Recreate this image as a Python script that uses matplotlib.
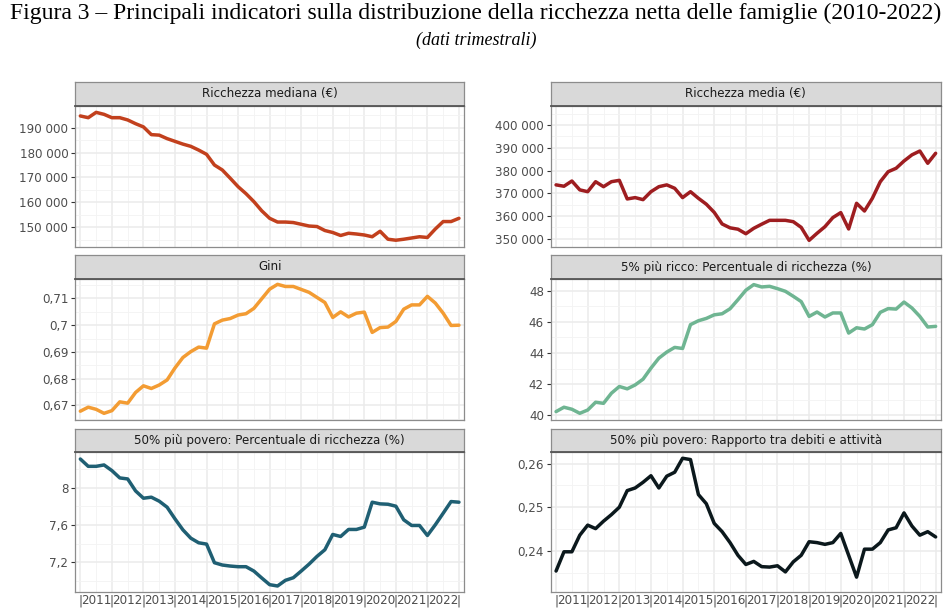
import matplotlib
matplotlib.use("Agg")
import matplotlib.pyplot as plt
from matplotlib.ticker import FixedLocator, FuncFormatter, MultipleLocator

plt.rcParams["font.family"] = ["DejaVu Sans"]

# quarterly data, 2010Q4 - 2022Q4 (plotted at quarter end)
quarters = [f"{2010 + (i + 3) // 4}Q{(i + 3) % 4 + 1}" for i in range(49)]

mediana = [194700, 194000, 196150, 195350, 194000, 194000, 193100, 191600, 190300, 187200,
           187000, 185600, 184500, 183400, 182500, 181000, 179300, 175000, 173000, 169700,
           166300, 163500, 160300, 156600, 153600, 152100, 152100, 151900, 151200, 150500,
           150300, 148700, 147900, 146700, 147600, 147300, 146900, 146200, 148400, 145200,
           144800, 145200, 145700, 146200, 145900, 149300, 152300, 152300, 153600]

media = [373700, 373100, 375400, 371500, 370700, 375100, 372900, 375100, 375700, 367500,
         368100, 367200, 370700, 372900, 373700, 372200, 368100, 370700, 367800, 365200,
         361600, 356500, 354800, 354200, 352200, 354600, 356400, 358100, 358100, 358100,
         357500, 355000, 349300, 352400, 355300, 359300, 361500, 354300, 365600, 362200,
         367800, 375100, 379500, 381000, 384200, 386900, 388600, 383200, 387600]

gini = [0.6678, 0.6693, 0.6685, 0.6670, 0.6680, 0.6713, 0.6708, 0.6748, 0.6773, 0.6763,
        0.6776, 0.6795, 0.6840, 0.6879, 0.6901, 0.6918, 0.6914, 0.7005, 0.7019, 0.7025,
        0.7038, 0.7043, 0.7063, 0.7099, 0.7135, 0.7153, 0.7145, 0.7145, 0.7134, 0.7123,
        0.7104, 0.7085, 0.7029, 0.7050, 0.7031, 0.7045, 0.7049, 0.6973, 0.6991, 0.6993,
        0.7014, 0.7060, 0.7076, 0.7076, 0.7108, 0.7083, 0.7045, 0.6999, 0.7000]

top5 = [40.24, 40.52, 40.39, 40.13, 40.34, 40.84, 40.77, 41.42, 41.85, 41.70,
        41.95, 42.32, 43.03, 43.67, 44.06, 44.36, 44.29, 45.82, 46.07, 46.22,
        46.45, 46.52, 46.84, 47.42, 48.03, 48.39, 48.24, 48.28, 48.13, 47.96,
        47.64, 47.30, 46.35, 46.63, 46.31, 46.57, 46.57, 45.28, 45.62, 45.54,
        45.82, 46.61, 46.85, 46.82, 47.27, 46.89, 46.35, 45.67, 45.71]

bottom50 = [8.312, 8.233, 8.233, 8.248, 8.187, 8.108, 8.097, 7.968, 7.889, 7.900,
            7.857, 7.792, 7.666, 7.548, 7.458, 7.408, 7.394, 7.193, 7.168, 7.157,
            7.150, 7.150, 7.103, 7.028, 6.956, 6.942, 7.003, 7.031, 7.103, 7.178,
            7.261, 7.333, 7.498, 7.476, 7.552, 7.552, 7.577, 7.846, 7.828, 7.824,
            7.803, 7.656, 7.595, 7.595, 7.487, 7.602, 7.727, 7.853, 7.846]

debt_ratio = [0.2354, 0.2398, 0.2398, 0.2436, 0.2459, 0.2451, 0.2468, 0.2483, 0.2500, 0.2538,
              0.2544, 0.2557, 0.2572, 0.2544, 0.2571, 0.2580, 0.2612, 0.2609, 0.2529, 0.2508,
              0.2463, 0.2444, 0.2419, 0.2390, 0.2369, 0.2376, 0.2364, 0.2363, 0.2366, 0.2352,
              0.2375, 0.2390, 0.2421, 0.2419, 0.2415, 0.2419, 0.2440, 0.2390, 0.2340, 0.2404,
              0.2404, 0.2419, 0.2448, 0.2453, 0.2487, 0.2457, 0.2436, 0.2444, 0.2432]

years = list(range(2011, 2023))

titles = ["Ricchezza mediana (€)", "Ricchezza media (€)", "Gini",
          "5% più ricco: Percentuale di ricchezza (%)",
          "50% più povero: Percentuale di ricchezza (%)",
          "50% più povero: Rapporto tra debiti e attività"]
series = [mediana, media, gini, top5, bottom50, debt_ratio]
colors = ["#C2401D", "#9E1D20", "#F39C33", "#6FB592", "#1F5F73", "#0B181C"]
yticks = [[150000, 160000, 170000, 180000, 190000],
          [350000, 360000, 370000, 380000, 390000, 400000],
          [0.67, 0.68, 0.69, 0.70, 0.71],
          [40, 42, 44, 46, 48],
          [7.2, 7.6, 8.0],
          [0.24, 0.25, 0.26]]
ylims = [(142200, 198700), (346500, 408400), (0.6645, 0.7173),
         (39.70, 48.75), (6.877, 8.391), (0.2306, 0.2627)]


def qx(q):
    # quarter end as fractional year
    return int(q[:4]) + int(q[-1]) / 4


x = [qx(q) for q in quarters]


def fmt_thousands(v, pos):
    return f"{int(round(v)):,}".replace(",", " ")


def fmt_comma(v, pos):
    return f"{round(v, 4):g}".replace(".", ",")


fig = plt.figure(figsize=(9.52, 6.11), dpi=100)
W, H = 952, 611

cols = [(75.3, 464.0), (551.0, 940.7)]
rows = [(82.0, 106.0, 246.7), (255.0, 279.0, 420.0), (429.0, 451.7, 592.0)]
fs = 8.6

for k in range(6):
    r, c = divmod(k, 2)
    x0, x1 = cols[c]
    st, sb, pb = rows[r]
    ax = fig.add_axes([x0 / W, 1 - pb / H, (x1 - x0) / W, (pb - sb) / H])
    sax = fig.add_axes([x0 / W, 1 - sb / H, (x1 - x0) / W, (sb - st) / H])

    ax.plot(x, series[k], color=colors[k], lw=2.5, solid_joinstyle="round",
            solid_capstyle="round", zorder=3)
    ax.set_xlim(x[0] - 0.16, x[-1] + 0.16)
    ax.set_ylim(*ylims[k])

    yt = yticks[k]
    step = yt[1] - yt[0]
    ax.yaxis.set_major_locator(FixedLocator(yt))
    ax.yaxis.set_minor_locator(MultipleLocator(step / 2))
    ax.yaxis.set_major_formatter(FuncFormatter(fmt_thousands if k < 2 else fmt_comma))

    ax.xaxis.set_major_locator(FixedLocator([y for y in range(2011, 2024)]))
    ax.xaxis.set_minor_locator(FixedLocator([y + 0.5 for y in years]))

    ax.grid(which="major", color="#EBEBEB", lw=1.1, zorder=0)
    ax.grid(which="minor", color="#F3F3F3", lw=0.6, zorder=0)
    ax.set_axisbelow(True)

    ax.tick_params(axis="y", which="major", length=3, width=0.8, color="#333333",
                   labelsize=fs, labelcolor="#4D4D4D", pad=2)
    ax.tick_params(axis="y", which="minor", length=0)
    if r == 2:
        ax.set_xticks([y + 0.5 for y in years], minor=True)
        ax.set_xticklabels([str(y) for y in years], minor=True)
        ax.set_xticklabels(["|"] * 13)
        ax.tick_params(axis="x", which="both", length=0, labelsize=fs,
                       labelcolor="#4D4D4D", pad=1.5)
    else:
        ax.tick_params(axis="x", which="both", length=0, labelbottom=False)

    for s in ax.spines.values():
        s.set_color("#8C8C8C")
        s.set_linewidth(0.9)

    sax.set_facecolor("#D9D9D9")
    sax.set_xticks([])
    sax.set_yticks([])
    for s in sax.spines.values():
        s.set_color("#8C8C8C")
        s.set_linewidth(0.9)
    sax.spines["bottom"].set_color("#555555")
    sax.spines["bottom"].set_linewidth(1.3)
    sax.text(0.5, 0.5, titles[k], ha="center", va="center", fontsize=fs,
             color="#1A1A1A", transform=sax.transAxes)

fig.text(0.5, 1 - 13 / H,
         "Figura 3 – Principali indicatori sulla distribuzione della ricchezza netta delle famiglie (2010-2022)",
         ha="center", va="center", fontsize=17, family="Liberation Serif")
fig.text(0.5, 1 - 40 / H, "(dati trimestrali)", ha="center", va="center",
         fontsize=13, family="Liberation Serif", style="italic")

fig.savefig("out.png", dpi=100)
